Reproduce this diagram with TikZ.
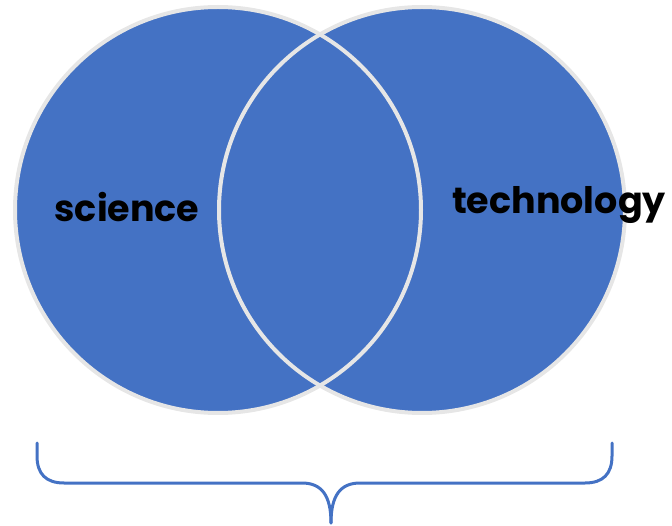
\documentclass[tikz,border=0pt]{standalone}
\usepackage{fontspec}
\setmainfont{Poppins}
\definecolor{vblue}{HTML}{4472C4}
\definecolor{vgray}{HTML}{E6E6E6}
\tikzset{
  setfill/.style={circle, minimum size=406pt, inner sep=0pt, fill=vblue},
  setline/.style={circle, minimum size=406pt, inner sep=0pt, draw=vgray, line width=4pt},
  label/.style={font=\fontsize{36.5}{36.5}\selectfont\bfseries, text=black, inner sep=0pt},
  brace/.style={draw=vblue, line width=3pt, line cap=round}
}
\begin{document}
\begin{tikzpicture}[x=1pt,y=-1pt]
\useasboundingbox (0,0) rectangle (672,526);
\node[setfill] (A) at (218,210) {};
\node[setfill] (B) at (422,210) {};
\node[setline] (Ao) at (218,210) {};
\node[setline] (Bo) at (422,210) {};
\node[label] (sci) at (127,207) {science};
\node[label] (tech) at (559,205) {technology};
\coordinate (bl) at (37,443);
\coordinate (br) at (612,443);
\coordinate (tip) at (331,523);
\draw[brace] (bl) -- (37,456) .. controls (37,474) and (46,483) .. (64,483) -- (302,483)
  .. controls (322,483) and (331,496) .. (tip);
\draw[brace] (br) -- (612,456) .. controls (612,474) and (603,483) .. (585,483) -- (360,483)
  .. controls (340,483) and (331,496) .. (tip);
\end{tikzpicture}
\end{document}
